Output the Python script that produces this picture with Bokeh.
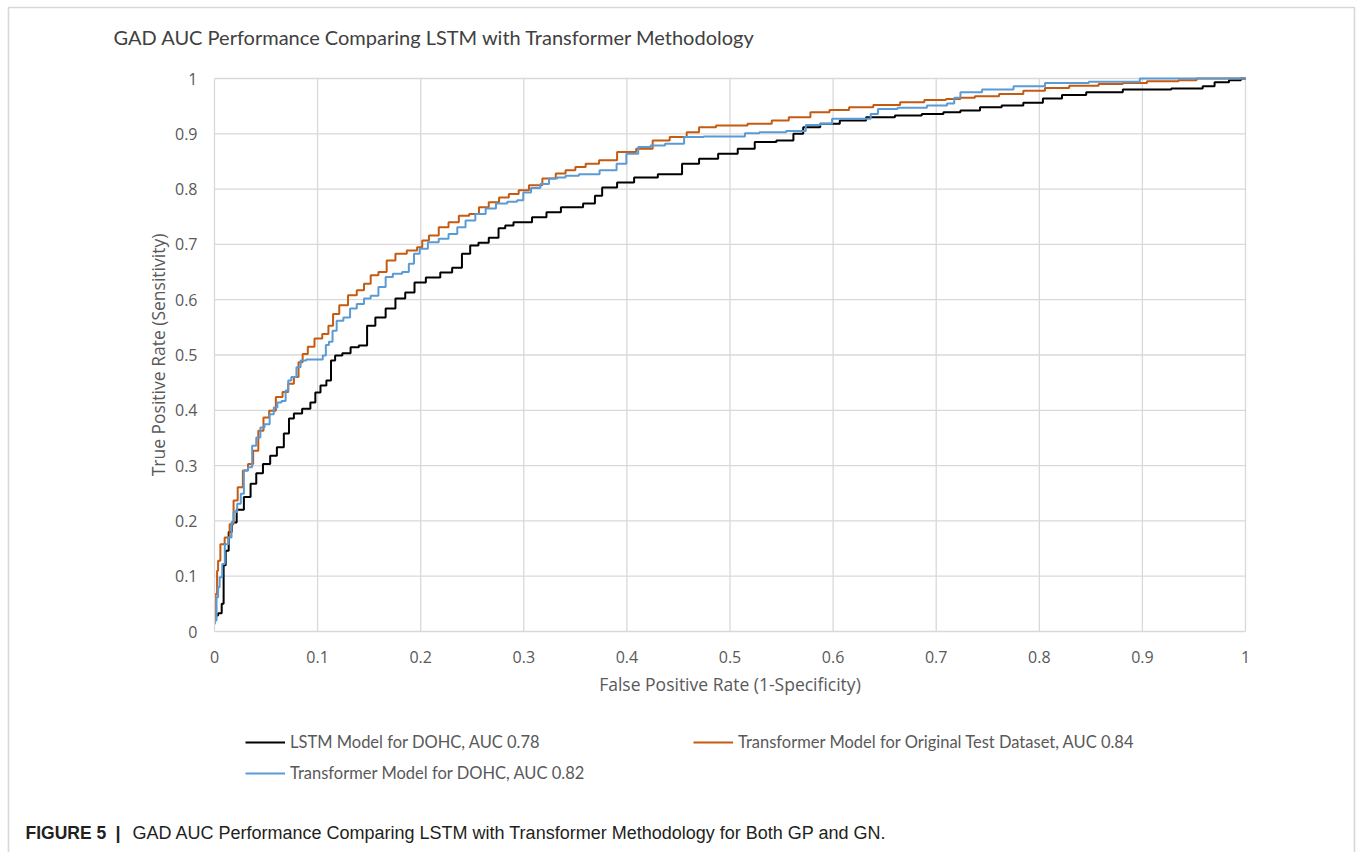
from bokeh.plotting import figure
from bokeh.models import (Range1d, FixedTicker, Legend, LegendItem, Label, BoxAnnotation)
from bokeh.embed import file_html
from bokeh.resources import INLINE

# ---------------- data ----------------
x_ticks = [0, 0.1, 0.2, 0.3, 0.4, 0.5, 0.6, 0.7, 0.8, 0.9, 1]
x_tick_labels = ["0", "0.1", "0.2", "0.3", "0.4", "0.5", "0.6", "0.7", "0.8", "0.9", "1"]
y_ticks = [0, 0.1, 0.2, 0.3, 0.4, 0.5, 0.6, 0.7, 0.8, 0.9, 1]
y_tick_labels = ["0", "0.1", "0.2", "0.3", "0.4", "0.5", "0.6", "0.7", "0.8", "0.9", "1"]

series_names = [
    "LSTM Model for DOHC, AUC 0.78",
    "Transformer Model for Original Test Dataset, AUC 0.84",
    "Transformer Model for DOHC, AUC 0.82",
]

lstm_fpr = [0, 0.001, 0.006, 0.008, 0.0097, 0.012, 0.0155, 0.018, 0.025, 0.032, 0.038, 0.043,
            0.051, 0.057, 0.064, 0.0705, 0.074, 0.080, 0.090, 0.096, 0.0996, 0.106, 0.111,
            0.115, 0.119, 0.129, 0.135, 0.145, 0.151, 0.161, 0.171, 0.180, 0.190, 0.198,
            0.212, 0.226, 0.235, 0.245, 0.251, 0.261, 0.271, 0.280, 0.284, 0.296, 0.320,
            0.324, 0.348, 0.367, 0.371, 0.381, 0.400, 0.414, 0.446, 0.461, 0.479, 0.498,
            0.517, 0.531, 0.559, 0.564, 0.578, 0.597, 0.616, 0.648, 0.672, 0.700, 0.714,
            0.733, 0.752, 0.775, 0.794, 0.813, 0.831, 0.860, 0.902, 0.954, 0.963, 0.977,
            0.991, 1.0]
lstm_tpr = [0.020, 0.029, 0.033, 0.050, 0.120, 0.146, 0.180, 0.197, 0.220, 0.243, 0.267, 0.286,
            0.303, 0.318, 0.333, 0.358, 0.385, 0.394, 0.403, 0.414, 0.432, 0.445, 0.454,
            0.490, 0.499, 0.503, 0.514, 0.517, 0.553, 0.568, 0.584, 0.602, 0.613, 0.631,
            0.640, 0.649, 0.658, 0.683, 0.698, 0.703, 0.712, 0.729, 0.734, 0.740, 0.749,
            0.758, 0.767, 0.774, 0.788, 0.803, 0.812, 0.821, 0.827, 0.846, 0.855, 0.864,
            0.873, 0.885, 0.888, 0.900, 0.912, 0.918, 0.924, 0.930, 0.933, 0.936, 0.939,
            0.942, 0.948, 0.951, 0.956, 0.964, 0.970, 0.975, 0.980, 0.982, 0.986, 0.993,
            0.997, 1.0]

orig_fpr = [0, 0.002, 0.003, 0.004, 0.0074, 0.0123, 0.017, 0.020, 0.025, 0.030, 0.035, 0.040,
            0.045, 0.050, 0.056, 0.063, 0.069, 0.074, 0.080, 0.083, 0.088, 0.093, 0.101,
            0.108, 0.113, 0.117, 0.125, 0.134, 0.142, 0.148, 0.155, 0.163, 0.171, 0.180,
            0.193, 0.200, 0.203, 0.213, 0.222, 0.232, 0.242, 0.252, 0.261, 0.271, 0.281,
            0.290, 0.300, 0.310, 0.326, 0.336, 0.345, 0.355, 0.365, 0.381, 0.400, 0.418,
            0.432, 0.451, 0.465, 0.475, 0.498, 0.536, 0.545, 0.569, 0.587, 0.606, 0.625,
            0.653, 0.677, 0.700, 0.719, 0.728, 0.747, 0.775, 0.794, 0.817, 0.841, 0.874,
            0.888, 0.921, 0.949, 0.956, 1.0]
orig_tpr = [0.020, 0.068, 0.110, 0.128, 0.158, 0.170, 0.194, 0.237, 0.261, 0.291, 0.303, 0.327,
            0.363, 0.387, 0.399, 0.424, 0.433, 0.448, 0.460, 0.487, 0.502, 0.515, 0.530,
            0.538, 0.553, 0.574, 0.590, 0.608, 0.617, 0.629, 0.644, 0.650, 0.671, 0.683,
            0.689, 0.695, 0.707, 0.716, 0.731, 0.740, 0.752, 0.755, 0.767, 0.776, 0.785,
            0.791, 0.798, 0.807, 0.819, 0.828, 0.834, 0.840, 0.846, 0.852, 0.867, 0.873,
            0.888, 0.894, 0.903, 0.912, 0.915, 0.918, 0.924, 0.930, 0.939, 0.943, 0.948,
            0.952, 0.957, 0.961, 0.963, 0.965, 0.968, 0.972, 0.978, 0.983, 0.987, 0.990,
            0.992, 0.995, 0.997, 1.0, 1.0]

dohc_fpr = [0, 0.001, 0.003, 0.004, 0.006, 0.009, 0.011, 0.016, 0.017, 0.020, 0.024, 0.027,
            0.030, 0.035, 0.038, 0.043, 0.046, 0.051, 0.056, 0.059, 0.063, 0.067, 0.071,
            0.072, 0.077, 0.082, 0.085, 0.093, 0.103, 0.107, 0.109, 0.113, 0.116, 0.121,
            0.129, 0.134, 0.142, 0.148, 0.155, 0.163, 0.169, 0.177, 0.187, 0.190, 0.197,
            0.201, 0.213, 0.222, 0.232, 0.239, 0.248, 0.258, 0.268, 0.278, 0.290, 0.297,
            0.302, 0.312, 0.320, 0.329, 0.336, 0.345, 0.362, 0.385, 0.395, 0.404, 0.418,
            0.428, 0.446, 0.465, 0.484, 0.512, 0.517, 0.540, 0.569, 0.578, 0.597, 0.601,
            0.634, 0.639, 0.648, 0.677, 0.705, 0.716, 0.719, 0.728, 0.761, 0.789, 0.822,
            0.874, 0.921, 1.0]
dohc_tpr = [0.014, 0.020, 0.062, 0.080, 0.098, 0.122, 0.158, 0.170, 0.197, 0.216, 0.231, 0.249,
            0.291, 0.297, 0.336, 0.351, 0.369, 0.375, 0.393, 0.405, 0.414, 0.417, 0.436,
            0.454, 0.460, 0.478, 0.490, 0.492, 0.492, 0.499, 0.518, 0.524, 0.544, 0.562,
            0.568, 0.584, 0.592, 0.602, 0.607, 0.623, 0.641, 0.647, 0.650, 0.665, 0.683,
            0.692, 0.704, 0.710, 0.719, 0.731, 0.743, 0.755, 0.765, 0.774, 0.777, 0.780,
            0.794, 0.802, 0.809, 0.819, 0.821, 0.824, 0.827, 0.834, 0.846, 0.864, 0.876,
            0.879, 0.882, 0.894, 0.895, 0.895, 0.901, 0.903, 0.905, 0.916, 0.918, 0.927,
            0.927, 0.936, 0.945, 0.947, 0.951, 0.955, 0.965, 0.975, 0.980, 0.986, 0.992,
            0.994, 1.0, 1.0]

title_text = "GAD AUC Performance Comparing LSTM with Transformer Methodology"
x_label = "False Positive Rate (1-Specificity)"
y_label = "True Positive Rate (Sensitivity)"
caption_parts = ["FIGURE 5", "|",
                 "GAD AUC Performance Comparing LSTM with Transformer Methodology for Both GP and GN."]

# ---------------- layout ----------------
W, H = 1356, 852
FL, FR, FT, FB = 214, 1245, 78, 631      # pixel box of the 0..1 x 0..1 plot area
SX = FR - FL
SY = FB - FT


def dx(px):
    return (px - FL) / SX


def dy(py):
    return (FB - py) / SY


# the frame covers the whole canvas; the 0..1 square sits where the reference puts it
p = figure(width=W, height=H, output_backend="svg", toolbar_location=None, title=None,
           x_range=Range1d(dx(0), dx(W)), y_range=Range1d(dy(H), dy(0)),
           min_border=0)
p.outline_line_color = None
p.background_fill_color = "white"
p.border_fill_color = "white"
p.grid.visible = False

grid_col = "#d9d9d9"
tick_col = "#595959"

# grid lines limited to the 0..1 square
x0, x1 = x_ticks[0], x_ticks[-1]
y0, y1 = y_ticks[0], y_ticks[-1]
p.segment(x0=x_ticks[1:], y0=[y0] * (len(x_ticks) - 1), x1=x_ticks[1:], y1=[y1] * (len(x_ticks) - 1),
          line_color=grid_col, line_width=1.3)
p.segment(x0=[x0] * (len(y_ticks) - 1), y0=y_ticks[1:], x1=[x1] * (len(y_ticks) - 1), y1=y_ticks[1:],
          line_color=grid_col, line_width=1.3)

for ax, ticks, labels in ((p.xaxis, x_ticks, x_tick_labels), (p.yaxis, y_ticks, y_tick_labels)):
    ax.fixed_location = 0
    ax.bounds = (ticks[0], ticks[-1])
    ax.ticker = FixedTicker(ticks=ticks)
    ax.major_label_overrides = {t: l for t, l in zip(ticks, labels)}
    ax.axis_line_color = grid_col
    ax.axis_line_width = 1.3
    ax.major_tick_line_color = None
    ax.minor_tick_line_color = None
    ax.major_tick_out = 0
    ax.major_tick_in = 0
    ax.major_label_text_font = "Open Sans"
    ax.major_label_text_font_size = "16px"
    ax.major_label_text_color = tick_col
    ax.axis_label_text_font = "Open Sans"
    ax.axis_label_text_font_size = "17.5px"
    ax.axis_label_text_font_style = "normal"
    ax.axis_label_text_color = tick_col

p.xaxis.axis_label = x_label
p.yaxis.axis_label = y_label
p.xaxis.major_label_standoff = 19
p.xaxis.axis_label_standoff = 6
p.yaxis.major_label_standoff = 17
p.yaxis.axis_label_standoff = 2

r_lstm = p.step(lstm_fpr, lstm_tpr, mode="center", line_color="#000000", line_width=2)
r_orig = p.step(orig_fpr, orig_tpr, mode="center", line_color="#C55A11", line_width=2)
r_dohc = p.step(dohc_fpr, dohc_tpr, mode="center", line_color="#5B9BD5", line_width=2)

leg_style = dict(padding=0, margin=0, border_line_color=None, background_fill_alpha=0,
                 glyph_width=40, glyph_height=20, label_height=20, label_standoff=5,
                 spacing=11, label_text_font="Lato", label_text_font_size="16.5px",
                 label_text_color=tick_col)
leg1 = Legend(items=[LegendItem(label=series_names[0], renderers=[r_lstm]),
                     LegendItem(label=series_names[2], renderers=[r_dohc])],
              location=(245, H - 783), **leg_style)
leg2 = Legend(items=[LegendItem(label=series_names[1], renderers=[r_orig])],
              location=(693, H - 752), **leg_style)
p.add_layout(leg1, "center")
p.add_layout(leg2, "center")

# chart title
p.add_layout(Label(x=dx(113), y=dy(36), text=title_text, text_font="Lato",
                   text_font_size="20px", text_color="#404040",
                   text_baseline="middle", text_align="left"))

# figure caption
cap_style = dict(text_font="Liberation Sans", text_font_size="18px", text_color="#231f20",
                 text_baseline="middle", text_align="left")
p.add_layout(Label(x=dx(25), y=dy(832), text=caption_parts[0], text_font_style="bold",
                   **dict(cap_style, text_font_size="17.5px")))
p.add_layout(Label(x=dx(115), y=dy(832), text=caption_parts[1], text_font_style="bold", **cap_style))
p.add_layout(Label(x=dx(132), y=dy(832), text=caption_parts[2], **cap_style))

# thin outer frame of the figure panel (its bottom edge lies below the page)
p.add_layout(BoxAnnotation(left=dx(8), right=dx(1354), top=dy(7), bottom=dy(H + 40),
                           fill_alpha=0, line_color="#7f7f7f", line_width=1.6))

open("out.html", "w").write(file_html(p, INLINE))
